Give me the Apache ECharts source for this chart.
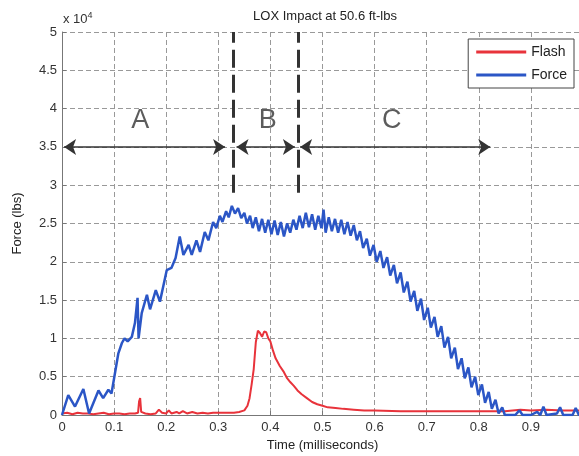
<!DOCTYPE html>
<html>
<head>
<meta charset="utf-8">
<script src="https://cdn.jsdelivr.net/npm/echarts@6/dist/echarts.min.js"></script>
<style>
  html, body { margin: 0; padding: 0; background: #fff; }
  #main { width: 579px; height: 456px; }
</style>
</head>
<body>
<div id="main"></div>
<script>
// Force trace, time (ms) / value (lbs)
var forceT = [0.000,0.012,0.025,0.041,0.052,0.070,0.079,0.089,0.095,0.100,0.108,0.115,0.120,0.126,0.134,0.140,0.145,0.147,0.153,0.163,
  0.169,0.180,0.188,0.195,0.201,0.210,0.218,0.226,0.233,0.243,0.249,0.258,0.265,0.274,0.281,0.290,0.296,0.303,0.308,0.315,
  0.320,0.326,0.332,0.338,0.344,0.350,0.355,0.361,0.366,0.372,0.378,0.384,0.390,0.396,0.402,0.408,0.414,0.420,0.426,0.432,
  0.438,0.444,0.450,0.456,0.462,0.468,0.474,0.480,0.486,0.492,0.498,0.502,0.506,0.512,0.518,0.524,0.530,0.536,0.542,0.548,
  0.554,0.560,0.566,0.572,0.578,0.585,0.591,0.598,0.604,0.611,0.617,0.624,0.630,0.637,0.643,0.650,0.656,0.663,0.669,0.676,
  0.682,0.689,0.695,0.702,0.708,0.715,0.721,0.728,0.734,0.741,0.747,0.754,0.760,0.767,0.773,0.780,0.786,0.793,0.799,0.806,
  0.812,0.819,0.825,0.832,0.838,0.845,0.850,0.870,0.878,0.884,0.900,0.912,0.918,0.924,0.930,0.950,0.956,0.962,0.980,0.986,
  0.992,1.000];
var forceV = [0,2600,1100,3400,200,3200,2200,3300,2800,4800,8000,9400,10000,9600,10200,12000,15300,10000,13300,15700,
  13800,16300,14800,17000,18900,19200,20500,23300,20900,22200,20900,22800,21300,23900,22800,25200,24400,26000,25200,26600,
  25800,27300,26300,27000,25700,26400,25000,26000,24400,25800,24000,25600,23800,25500,23600,25400,23500,25200,23300,25000,
  23800,25500,24200,26000,24400,26400,24500,26200,24200,26000,24400,26800,23800,25800,24000,25600,23800,25500,23600,25200,
  23400,24800,22800,24000,21800,23000,20800,22200,20000,21400,19200,20600,18200,19600,17200,18600,16000,17400,14800,16200,
  13600,15200,12400,14000,11400,12800,10200,11600,8800,10200,7400,8800,6000,7400,4800,6200,3600,5000,2600,4000,
  1600,3000,800,2000,200,1000,0,0,600,0,0,400,0,1100,0,200,1000,0,0,900,
  0,100];

// Flash trace, time (ms) / value (lbs scale)
var flashT = [0.000,0.010,0.020,0.030,0.040,0.050,0.060,0.070,0.080,0.090,0.100,0.110,0.120,0.130,0.140,0.146,0.148,0.150,0.152,0.160,
  0.170,0.180,0.186,0.192,0.200,0.205,0.210,0.220,0.225,0.232,0.240,0.250,0.260,0.270,0.280,0.290,0.300,0.310,0.320,0.330,
  0.340,0.350,0.356,0.360,0.364,0.368,0.372,0.376,0.380,0.384,0.388,0.392,0.396,0.400,0.405,0.410,0.418,0.425,0.432,0.438,
  0.445,0.452,0.460,0.470,0.480,0.490,0.500,0.510,0.525,0.540,0.560,0.580,0.600,0.650,0.700,0.750,0.800,0.850,0.880,0.900,
  0.930,0.960,1.000];
var flashV = [200,300,100,300,200,200,100,200,300,100,200,200,100,200,200,300,1800,2200,400,200,
  100,200,700,300,200,600,200,400,200,500,200,400,200,300,200,300,300,300,300,300,
  400,600,1200,2200,4000,6000,9500,11000,10700,10200,10900,10800,10000,9600,8400,7400,6400,5700,4800,4300,
  3800,3200,2700,2200,1700,1400,1200,1000,900,800,700,600,600,500,500,500,500,500,700,600,
  700,600,600];

// phase labels and boundaries
var phaseNames = ['A', 'B', 'C'];
var phaseLabelX = [0.15, 0.395, 0.633];
var phaseLabelY = 38500;
var arrowY = 35000;
var arrowRanges = [[0.004, 0.313], [0.335, 0.447], [0.457, 0.822]];
var boundaryX = [0.328, 0.453];
var boundaryFrom = 29000;

var xTicks = ['0', '0.1', '0.2', '0.3', '0.4', '0.5', '0.6', '0.7', '0.8', '0.9'];

function pairs(t, v) {
  var out = [];
  for (var i = 0; i < t.length; i++) out.push([t[i], v[i]]);
  return out;
}

var font = 'Liberation Sans, Arial, sans-serif';
var chart = echarts.init(document.getElementById('main'));

var labelData = [];
for (var i = 0; i < phaseNames.length; i++) {
  labelData.push({ name: phaseNames[i], value: [phaseLabelX[i], phaseLabelY] });
}
var lines = [];
for (var i = 0; i < arrowRanges.length; i++) {
  lines.push([{ coord: [arrowRanges[i][0], arrowY], symbol: 'arrow' }, { coord: [arrowRanges[i][1], arrowY], symbol: 'arrow' }]);
}
for (var i = 0; i < boundaryX.length; i++) {
  lines.push([{ coord: [boundaryX[i], boundaryFrom], symbol: 'none',
                lineStyle: { type: [18, 7], width: 3, color: '#333' } },
              { coord: [boundaryX[i], 50000], symbol: 'none' }]);
}

var option = {
  backgroundColor: '#FFFFFF',
  animation: false,
  textStyle: { fontFamily: font },
  title: [
    {
      text: 'LOX Impact at 50.6 ft-lbs',
      left: 320, top: 5, textAlign: 'center',
      textStyle: { fontSize: 13, fontWeight: 'normal', color: '#222', fontFamily: font }
    },
    {
      text: 'x 10{s|4}',
      left: 58, top: 6,
      textStyle: {
        fontSize: 13, fontWeight: 'normal', color: '#333', fontFamily: font,
        rich: { s: { fontSize: 9, verticalAlign: 'top', padding: [0, 0, 8, 0], color: '#333' } }
      }
    }
  ],
  legend: {
    data: ['Flash', 'Force'],
    orient: 'vertical',
    right: 5, top: 39,
    icon: 'rect',
    itemWidth: 50, itemHeight: 3,
    itemGap: 9,
    padding: [6, 7, 6, 8],
    borderColor: '#444', borderWidth: 1,
    backgroundColor: '#fff',
    textStyle: { fontSize: 14, color: '#222', fontFamily: font }
  },
  grid: { left: 62, right: -4, top: 32, bottom: 41, outerBoundsMode: 'none' },
  xAxis: {
    type: 'value', min: 0, max: 1, interval: 0.1,
    name: 'Time (milliseconds)', nameLocation: 'middle', nameGap: 22,
    nameTextStyle: { fontSize: 13, color: '#222' },
    axisLine: { show: true, lineStyle: { color: '#777' } },
    axisTick: { inside: true, length: 4, lineStyle: { color: '#777' } },
    axisLabel: {
      fontSize: 13, color: '#333', margin: 6,
      formatter: function (v) {
        var k = Math.round(v * 10);
        return k < xTicks.length ? xTicks[k] : '';
      }
    },
    splitLine: { show: true, lineStyle: { type: [5, 3], color: '#999' } }
  },
  yAxis: {
    type: 'value', min: 0, max: 50000, interval: 5000,
    name: 'Force (lbs)', nameLocation: 'middle', nameGap: 38,
    nameTextStyle: { fontSize: 13, color: '#222' },
    axisLine: { show: true, lineStyle: { color: '#777' } },
    axisTick: { inside: true, length: 4, lineStyle: { color: '#777' } },
    axisLabel: {
      fontSize: 13, color: '#333', margin: 5,
      formatter: function (v) { return String(v / 10000); }
    },
    splitLine: { show: true, lineStyle: { type: [5, 3], color: '#999' } }
  },
  series: [
    {
      name: 'Flash', type: 'line', data: pairs(flashT, flashV),
      showSymbol: false, color: '#e8333b',
      lineStyle: { width: 2, color: '#e8333b' }, z: 3
    },
    {
      name: 'Force', type: 'line', data: pairs(forceT, forceV),
      showSymbol: false, color: '#2b56c6',
      lineStyle: { width: 2.5, color: '#2b56c6' }, z: 4
    },
    {
      name: 'phases', type: 'scatter', data: labelData, silent: true,
      symbolSize: 1, itemStyle: { color: 'rgba(0,0,0,0)' },
      label: { show: true, position: 'inside', formatter: '{b}', fontSize: 27, color: '#333', fontFamily: font },
      markLine: {
        silent: true, animation: false,
        symbolSize: 12,
        label: { show: false },
        lineStyle: { type: 'solid', width: 1.5, color: '#333' },
        data: lines
      },
      z: 5
    }
  ]
};
chart.setOption(option);
</script>
</body>
</html>
